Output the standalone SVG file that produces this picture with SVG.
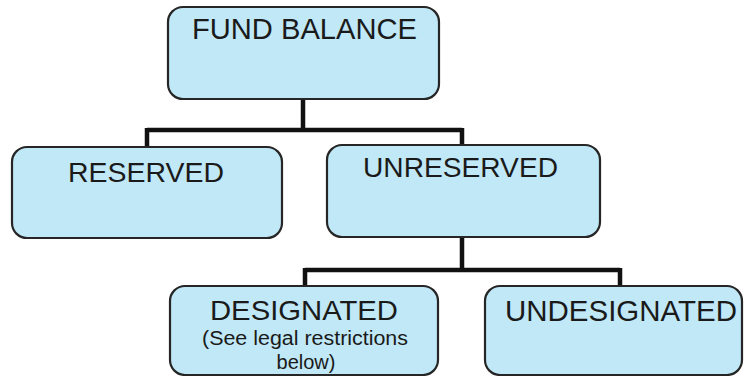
<svg xmlns="http://www.w3.org/2000/svg" width="745" height="376" viewBox="0 0 745 376">
<style>
.box{fill:#c0e8f6;stroke:#262626;stroke-width:2.2}
.t{font-family:"Liberation Sans",Arial,sans-serif;fill:#1a1a1a}
.c{fill:none;stroke:#111;stroke-width:4.5}
</style>
<rect width="745" height="376" fill="#ffffff"/>
<g id="connectors">
<path class="c" d="M303 99V130M147 130H462M147 128V148M462 128V146"/>
<path class="c" d="M462 237V270M305 268V287M305 270H620M620 268V287"/>
</g>
<g id="fund-balance">
<rect class="box" x="168" y="7" width="271" height="92" rx="15"/>
<text class="t" x="192" y="39" font-size="29.5" textLength="225" lengthAdjust="spacingAndGlyphs">FUND BALANCE</text>
</g>
<g id="reserved">
<rect class="box" x="12" y="147" width="270" height="91" rx="15"/>
<text class="t" x="68" y="182" font-size="28" textLength="156" lengthAdjust="spacingAndGlyphs">RESERVED</text>
</g>
<g id="unreserved">
<rect class="box" x="327" y="145" width="273" height="92" rx="15"/>
<text class="t" x="363" y="177" font-size="28" textLength="195" lengthAdjust="spacingAndGlyphs">UNRESERVED</text>
</g>
<g id="designated">
<rect class="box" x="170" y="286" width="268" height="89" rx="15"/>
<text class="t" x="210" y="320" font-size="28.5" textLength="188" lengthAdjust="spacingAndGlyphs">DESIGNATED</text>
<text class="t" x="202" y="345" font-size="19.5" textLength="206" lengthAdjust="spacingAndGlyphs">(See legal restrictions</text>
<text class="t" x="306" y="369" font-size="20" text-anchor="middle">below)</text>
</g>
<g id="undesignated">
<rect class="box" x="485" y="286" width="257" height="89" rx="15"/>
<text class="t" x="505" y="321" font-size="29.5" textLength="232" lengthAdjust="spacingAndGlyphs">UNDESIGNATED</text>
</g>
</svg>
